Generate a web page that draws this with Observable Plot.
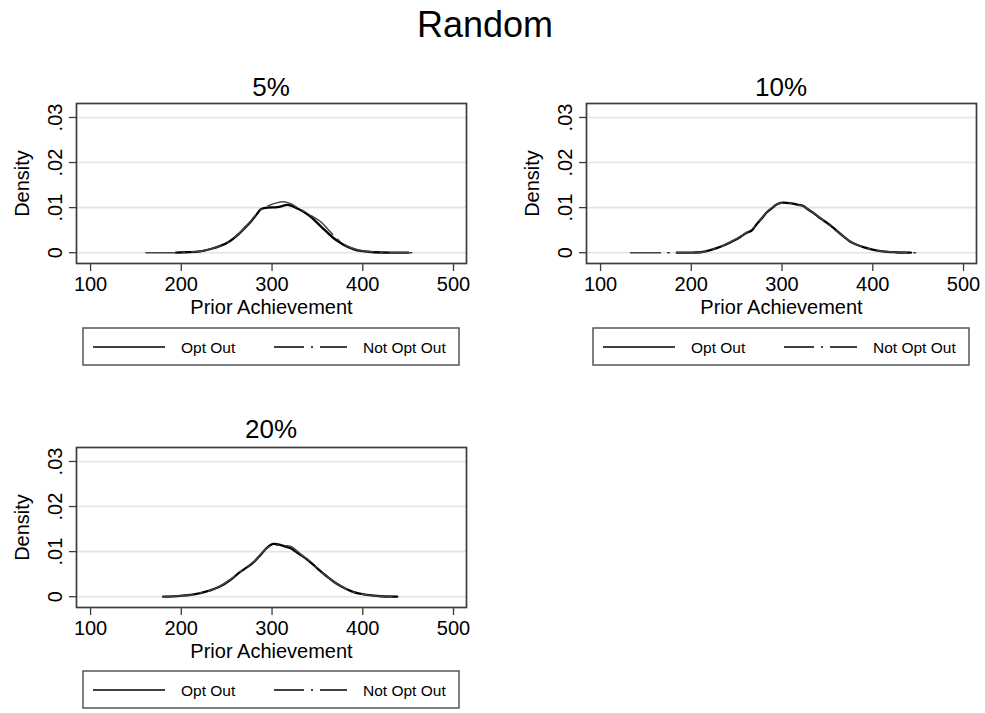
<!DOCTYPE html>
<html>
<head>
<meta charset="utf-8">
<script src="https://cdn.jsdelivr.net/npm/d3@7"></script>
<script src="https://cdn.jsdelivr.net/npm/@observablehq/plot@0.6"></script>
<style>
  body { margin: 0; background: #fff; }
  #page { position: relative; width: 985px; height: 713px; background: #fff; overflow: hidden; }
  #page > svg { position: absolute; }
</style>
</head>
<body>
<div id="page"></div>
<script>
// Kernel density of prior achievement, opt-out vs. non-opt-out students,
// for three random opt-out rates.
const mainTitle = "Random";
const panelTitles = ["5%", "10%", "20%"];
const seriesNames = ["Opt Out", "Not Opt Out"];
const xLabel = "Prior Achievement";
const yLabel = "Density";
const xTicks = [100, 200, 300, 400, 500];
const yTicks = [0, 0.01, 0.02, 0.03];
const xRange = [84.5, 514.3];
const yRange = [-0.0024, 0.0331];

// 5%
const x5Opt = [194, 205, 221, 232, 243, 253, 262, 270, 277, 283, 288, 295, 306, 317, 328, 336, 343, 354, 362, 368, 376, 383, 391, 398, 412, 430, 450];
const y5Opt = [0, 0.0001, 0.0003, 0.0008, 0.0015, 0.0025, 0.0039, 0.0055, 0.0070, 0.0085, 0.0097, 0.0100, 0.0101, 0.0106, 0.0098, 0.0089, 0.0079, 0.0058, 0.0043, 0.0032, 0.0021, 0.0013, 0.0007, 0.0004, 0.0001, 0, 0];
const x5Not = [161, 180, 195, 205, 221, 232, 243, 253, 262, 270, 277, 283, 289, 296, 304, 313, 320, 328, 336, 343, 354, 362, 370, 378, 386, 395, 410, 430, 454];
const y5Not = [0, 0, 0, 0.0001, 0.0003, 0.0008, 0.0015, 0.0026, 0.0040, 0.0056, 0.0071, 0.0086, 0.0097, 0.0104, 0.0110, 0.0113, 0.0109, 0.0100, 0.0091, 0.0082, 0.0068, 0.0051, 0.0034, 0.0021, 0.0012, 0.0006, 0.0002, 0, 0];

// 10%
const x10Opt = [184, 200, 210, 220, 228, 237, 246, 254, 261, 267, 272, 278, 283, 289, 294, 301, 307, 312, 318, 323, 328, 334, 341, 349, 356, 363, 369, 374, 383, 392, 401, 411, 425, 442];
const y10Opt = [0, 0, 0.0001, 0.0005, 0.0010, 0.0017, 0.0026, 0.0035, 0.0044, 0.0050, 0.0063, 0.0077, 0.0089, 0.0099, 0.0107, 0.0111, 0.0110, 0.0109, 0.0106, 0.0104, 0.0097, 0.0089, 0.0078, 0.0067, 0.0056, 0.0044, 0.0034, 0.0026, 0.0017, 0.0011, 0.0006, 0.0003, 0.0001, 0];
const x10Not = [133, 150, 170, 184, 200, 210, 220, 228, 237, 246, 254, 261, 267, 272, 278, 283, 289, 294, 301, 307, 312, 318, 323, 328, 334, 341, 349, 356, 363, 369, 374, 383, 392, 401, 411, 425, 449];
const y10Not = [0, 0, 0, 0, 0, 0.0001, 0.0005, 0.0010, 0.0018, 0.0027, 0.0036, 0.0045, 0.0052, 0.0064, 0.0078, 0.0090, 0.0100, 0.0107, 0.0110, 0.0110, 0.0108, 0.0106, 0.0103, 0.0097, 0.0090, 0.0079, 0.0067, 0.0055, 0.0043, 0.0034, 0.0026, 0.0017, 0.0011, 0.0006, 0.0003, 0.0001, 0];

// 20%
const x20Opt = [180, 199, 210, 221, 232, 243, 254, 265, 273, 280, 287, 294, 302, 309, 315, 320, 326, 332, 339, 346, 353, 361, 368, 376, 383, 390, 405, 420, 438];
const y20Opt = [0, 0.0002, 0.0004, 0.0008, 0.0014, 0.0023, 0.0037, 0.0055, 0.0066, 0.0077, 0.0092, 0.0108, 0.0117, 0.0115, 0.0111, 0.0108, 0.0100, 0.0092, 0.0082, 0.0070, 0.0057, 0.0044, 0.0033, 0.0023, 0.0016, 0.0010, 0.0004, 0.0001, 0];
const x20Not = [180, 199, 210, 221, 232, 243, 254, 265, 273, 280, 287, 294, 302, 309, 315, 320, 326, 332, 339, 346, 353, 361, 368, 376, 383, 390, 405, 420, 438];
const y20Not = [0, 0.0002, 0.0004, 0.0008, 0.0014, 0.0024, 0.0038, 0.0055, 0.0067, 0.0078, 0.0093, 0.0107, 0.0114, 0.0114, 0.0113, 0.0112, 0.0104, 0.0094, 0.0083, 0.0071, 0.0057, 0.0044, 0.0033, 0.0023, 0.0016, 0.0010, 0.0004, 0.0001, 0];

const FONT = "'Liberation Sans', Arial, Helvetica, sans-serif";
const DASH = "30,7,2,7";
const INK = "#000";
const FRAME = "#3c3c3c";
const GRID = "#e4e4e4";

const panels = [
  {title: panelTitles[0], left: 0,   top: 95,  opt: [x5Opt, y5Opt],   not: [x5Not, y5Not],   titleY: 96,  legend: {x: 83,  y: 328}},
  {title: panelTitles[1], left: 510, top: 95,  opt: [x10Opt, y10Opt], not: [x10Not, y10Not], titleY: 96,  legend: {x: 593, y: 328}},
  {title: panelTitles[2], left: 0,   top: 439, opt: [x20Opt, y20Opt], not: [x20Not, y20Not], titleY: 438, legend: {x: 83,  y: 671}}
];

const W = 480, H = 223, ML = 76, MR = 14, MT = 8, MB = 55;
const page = document.getElementById("page");

// Titles and legends
const overlay = d3.select(page).append("svg")
  .attr("width", 985).attr("height", 713)
  .style("left", "0px").style("top", "0px")
  .style("font-family", FONT);

overlay.append("text")
  .attr("x", 485).attr("y", 37)
  .attr("text-anchor", "middle")
  .attr("font-size", 36)
  .attr("fill", INK)
  .text(mainTitle);

const yFmt = d => d === 0 ? "0" : d3.format(".2f")(d).replace(/^0/, "");

for (const p of panels) {
  const toRows = ([xs, ys]) => xs.map((x, i) => ({x, y: ys[i]}));
  const optRows = toRows(p.opt);
  const notRows = toRows(p.not);

  const chart = Plot.plot({
    width: W, height: H,
    marginLeft: ML, marginRight: MR, marginTop: MT, marginBottom: MB,
    x: {domain: xRange},
    y: {domain: yRange},
    style: {fontFamily: FONT, fontSize: "20px", color: INK, background: "transparent", overflow: "visible"},
    marks: [
      Plot.gridY(yTicks, {stroke: GRID, strokeOpacity: 1, strokeWidth: 1.6}),
      Plot.axisX(xTicks, {tickSize: 8, tickPadding: 5, label: null, stroke: FRAME, strokeWidth: 1.3}),
      Plot.axisY(yTicks, {tickSize: 7, tickFormat: () => "", label: null, stroke: FRAME, strokeWidth: 1.3}),
      Plot.text(yTicks, {y: d => d, text: yFmt, frameAnchor: "left", dx: -15, rotate: -90, textAnchor: "middle", lineAnchor: "bottom", fill: INK}),
      Plot.text([xLabel], {frameAnchor: "bottom", dy: 44, lineAnchor: "middle", fill: INK}),
      Plot.text([yLabel], {frameAnchor: "left", dx: -48, rotate: -90, textAnchor: "middle", lineAnchor: "bottom", fill: INK}),
      Plot.line(optRows, {x: "x", y: "y", stroke: INK, strokeWidth: 2.3, curve: "monotone-x"}),
      Plot.line(notRows, {x: "x", y: "y", stroke: "#444", strokeWidth: 1.5, strokeDasharray: DASH, curve: "monotone-x"}),
      Plot.frame({stroke: FRAME, strokeWidth: 1.7})
    ]
  });
  chart.style.left = p.left + "px";
  chart.style.top = p.top + "px";
  page.appendChild(chart);

  // Panel title, centred over the plotting frame
  overlay.append("text")
    .attr("x", p.left + ML + (W - ML - MR) / 2)
    .attr("y", p.titleY)
    .attr("text-anchor", "middle")
    .attr("font-size", 26)
    .attr("fill", INK)
    .text(p.title);

  // Legend box below each panel
  const g = overlay.append("g").attr("transform", `translate(${p.legend.x},${p.legend.y})`);
  g.append("rect").attr("x", 0).attr("y", 0).attr("width", 376).attr("height", 37)
    .attr("fill", "#fff").attr("stroke", "#555").attr("stroke-width", 1.5);
  g.append("line").attr("x1", 10).attr("x2", 82).attr("y1", 19).attr("y2", 19)
    .attr("stroke", INK).attr("stroke-width", 1.6);
  g.append("text").attr("x", 98).attr("y", 24.5).attr("font-size", 15.5).attr("fill", INK).text(seriesNames[0]);
  g.append("line").attr("x1", 191).attr("x2", 264).attr("y1", 19).attr("y2", 19)
    .attr("stroke", INK).attr("stroke-width", 1.6).attr("stroke-dasharray", DASH);
  g.append("text").attr("x", 280).attr("y", 24.5).attr("font-size", 15.5).attr("fill", INK).text(seriesNames[1]);
}
</script>
</body>
</html>
